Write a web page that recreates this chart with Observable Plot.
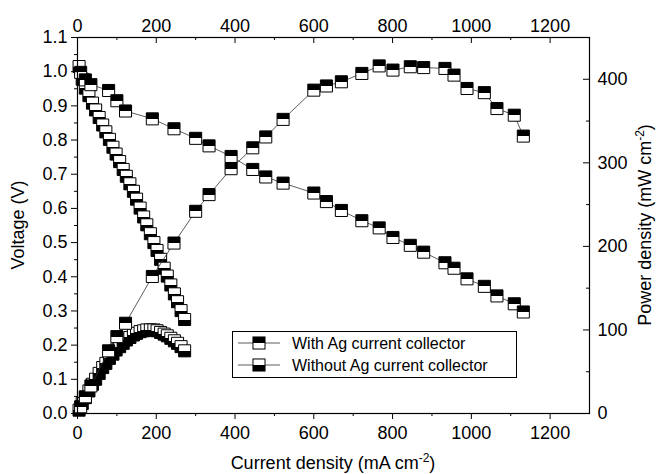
<!DOCTYPE html>
<html><head><meta charset="utf-8">
<script src="https://cdn.jsdelivr.net/npm/d3@7"></script>
<script src="https://cdn.jsdelivr.net/npm/@observablehq/plot@0.6"></script>
<style>body{margin:0;background:#fff}</style>
</head><body><div id="chart"></div>
<script>
// ---- data ----
const seriesNames = ["With Ag current collector", "Without Ag current collector"];

const withCurrent = [8, 20, 34, 79, 100, 122, 190, 245, 300, 334, 390, 445, 478, 522, 600, 632, 670, 722, 766, 801, 845, 879, 933, 956, 989, 1033, 1065, 1109, 1132];
const withVoltage = [0.998, 0.976, 0.962, 0.945, 0.915, 0.885, 0.862, 0.833, 0.805, 0.783, 0.752, 0.714, 0.692, 0.674, 0.645, 0.62, 0.594, 0.564, 0.543, 0.515, 0.492, 0.472, 0.441, 0.425, 0.394, 0.372, 0.344, 0.321, 0.297];
const withPower = [8, 20, 33, 75, 92, 108, 164, 204, 242, 262, 293, 318, 331, 352, 387, 392, 397, 407, 416, 411, 415, 414, 413, 405, 389, 384, 365, 357, 332];

const withoutCurrent = [4, 12, 20, 29, 38, 46, 55, 64, 72, 81, 90, 98, 107, 116, 124, 133, 142, 150, 159, 168, 176, 185, 194, 202, 211, 220, 228, 237, 246, 254, 263, 272];
const withoutVoltage = [1.015, 0.978, 0.952, 0.93, 0.908, 0.888, 0.866, 0.844, 0.824, 0.802, 0.779, 0.759, 0.737, 0.714, 0.694, 0.672, 0.65, 0.627, 0.601, 0.575, 0.552, 0.526, 0.5, 0.477, 0.451, 0.425, 0.402, 0.376, 0.35, 0.327, 0.301, 0.275];
const withoutPower = [4, 12, 19, 27, 35, 41, 48, 55, 60, 66, 71, 76, 80, 84, 88, 91, 94, 96, 98, 99, 100, 100, 100, 99, 97, 95, 93, 90, 87, 84, 80, 75];

const xTicks = [0, 200, 400, 600, 800, 1000, 1200];
const xMinor = [100, 300, 500, 700, 900, 1100, 1300];
const vTicks = [0, 0.1, 0.2, 0.3, 0.4, 0.5, 0.6, 0.7, 0.8, 0.9, 1.0, 1.1];
const vMinor = [0.05, 0.15, 0.25, 0.35, 0.45, 0.55, 0.65, 0.75, 0.85, 0.95, 1.05];
const pTicks = [0, 100, 200, 300, 400];
const pMinor = [50, 150, 250, 350];

// ---- layout ----
const W = 657, H = 474;
const mL = 77, mR = 68, mT = 37, mB = 61;
const plotW = W - mL - mR, plotH = H - mT - mB;
const V_MAX = 1.1, P_MAX = 450;
const pToV = p => p * V_MAX / P_MAX;

const rows = (xs, ys) => xs.map((x, i) => ({x, y: ys[i]}));
const withV = rows(withCurrent, withVoltage);
const withP = rows(withCurrent, withPower.map(pToV));
const withoutV = rows(withoutCurrent, withoutVoltage);
const withoutP = rows(withoutCurrent, withoutPower.map(pToV));

const R = 6.8; // square side ≈ 12px
const lineOpts = {x: "x", y: "y", stroke: "#333", strokeWidth: 0.8};
const dotOpts = (fill) => ({x: "x", y: "y", symbol: "square", r: R, fill, stroke: "#000", strokeWidth: 1});

const fmtV = d => d.toFixed(1);

const svg = Plot.plot({
  width: W, height: H,
  marginLeft: mL, marginRight: mR, marginTop: mT, marginBottom: mB,
  x: {domain: [0, 1300]},
  y: {domain: [0, V_MAX]},
  style: {fontFamily: "'Liberation Sans', Arial, sans-serif", fontSize: "18px", color: "#000", background: "#fff"},
  marks: [
    Plot.line(withoutP, lineOpts),
    Plot.dot(withoutP, dotOpts("url(#botBlack)")),
    Plot.line(withoutV, lineOpts),
    Plot.dot(withoutV, dotOpts("url(#botBlack)")),
    Plot.line(withV, lineOpts),
    Plot.dot(withV, dotOpts("url(#topBlack)")),
    Plot.line(withP, lineOpts),
    Plot.dot(withP, dotOpts("url(#topBlack)")),
    Plot.frame({stroke: "#000", strokeWidth: 1.2}),
    // bottom axis (outward ticks)
    Plot.axisX({anchor: "bottom", ticks: xTicks, tickSize: 6, tickPadding: 7, label: null, tickFormat: d => String(d)}),
    Plot.axisX({anchor: "bottom", ticks: xMinor.filter(d => d < 1300), tickSize: 3, label: null, tickFormat: () => ""}),
    // left axis (outward ticks)
    Plot.axisY({anchor: "left", ticks: vTicks, tickSize: 6, tickPadding: 4, label: null, tickFormat: fmtV}),
    Plot.axisY({anchor: "left", ticks: vMinor, tickSize: 3, label: null, tickFormat: () => ""}),
    // top axis (inward ticks)
    Plot.axisX({anchor: "top", ticks: xTicks, tickSize: 0, tickPadding: 6, label: null, tickFormat: d => String(d)}),
    Plot.tickX(xTicks, {x: d => d, insetBottom: plotH - 6, stroke: "#000"}),
    Plot.tickX(xMinor, {x: d => d, insetBottom: plotH - 3, stroke: "#000"}),
    // right axis (power, inward ticks)
    Plot.axisY({anchor: "right", ticks: pTicks.map(pToV), tickSize: 0, tickPadding: 8, label: null,
      tickFormat: v => String(Math.round(v * P_MAX / V_MAX))}),
    Plot.tickY(pTicks.map(pToV), {y: d => d, insetLeft: plotW - 6, stroke: "#000"}),
    Plot.tickY(pMinor.map(pToV), {y: d => d, insetLeft: plotW - 3, stroke: "#000"})
  ]
});

const s = d3.select(svg);
const defs = s.insert("defs", ":first-child");
function grad(id, topColor, botColor) {
  const g = defs.append("linearGradient").attr("id", id).attr("x1", 0).attr("y1", 0).attr("x2", 0).attr("y2", 1);
  g.append("stop").attr("offset", 0).attr("stop-color", topColor);
  g.append("stop").attr("offset", 0.5).attr("stop-color", topColor);
  g.append("stop").attr("offset", 0.5).attr("stop-color", botColor);
  g.append("stop").attr("offset", 1).attr("stop-color", botColor);
}
grad("topBlack", "#000", "#fff");
grad("botBlack", "#fff", "#000");

const font = "'Liberation Sans', Arial, sans-serif";
// axis titles
const bt = s.append("text").attr("x", 333).attr("y", 469).attr("text-anchor", "middle")
  .attr("font-family", font).attr("font-size", 18).attr("fill", "#000");
bt.append("tspan").text("Current density (mA cm");
bt.append("tspan").attr("dy", -7).attr("font-size", 12).text("-2");
bt.append("tspan").attr("dy", 7).text(")");

s.append("text").attr("transform", "translate(24,225) rotate(-90)").attr("text-anchor", "middle")
  .attr("font-family", font).attr("font-size", 18).attr("fill", "#000").text("Voltage (V)");

const rt = s.append("text").attr("transform", "translate(651,225) rotate(-90)").attr("text-anchor", "middle")
  .attr("font-family", font).attr("font-size", 18).attr("fill", "#000");
rt.append("tspan").text("Power density (mW cm");
rt.append("tspan").attr("dy", -7).attr("font-size", 12).text("-2");
rt.append("tspan").attr("dy", 7).text(")");

// legend
const lg = s.append("g");
lg.append("rect").attr("x", 232.5).attr("y", 331.5).attr("width", 284).attr("height", 46)
  .attr("fill", "#fff").attr("stroke", "#000").attr("stroke-width", 1);
const side = R * Math.sqrt(Math.PI);
[["topBlack", 343], ["botBlack", 365]].forEach(([id, y], i) => {
  lg.append("line").attr("x1", 238).attr("x2", 280).attr("y1", y).attr("y2", y).attr("stroke", "#333").attr("stroke-width", 0.8);
  lg.append("rect").attr("x", 259 - side / 2).attr("y", y - side / 2).attr("width", side).attr("height", side)
    .attr("fill", `url(#${id})`).attr("stroke", "#000").attr("stroke-width", 1);
  lg.append("text").attr("x", 292).attr("y", y + 6).attr("text-anchor", "start").attr("font-family", font).attr("font-size", 16)
    .attr("fill", "#000").text(seriesNames[i]);
});

document.getElementById("chart").appendChild(svg);
</script>
</body></html>
